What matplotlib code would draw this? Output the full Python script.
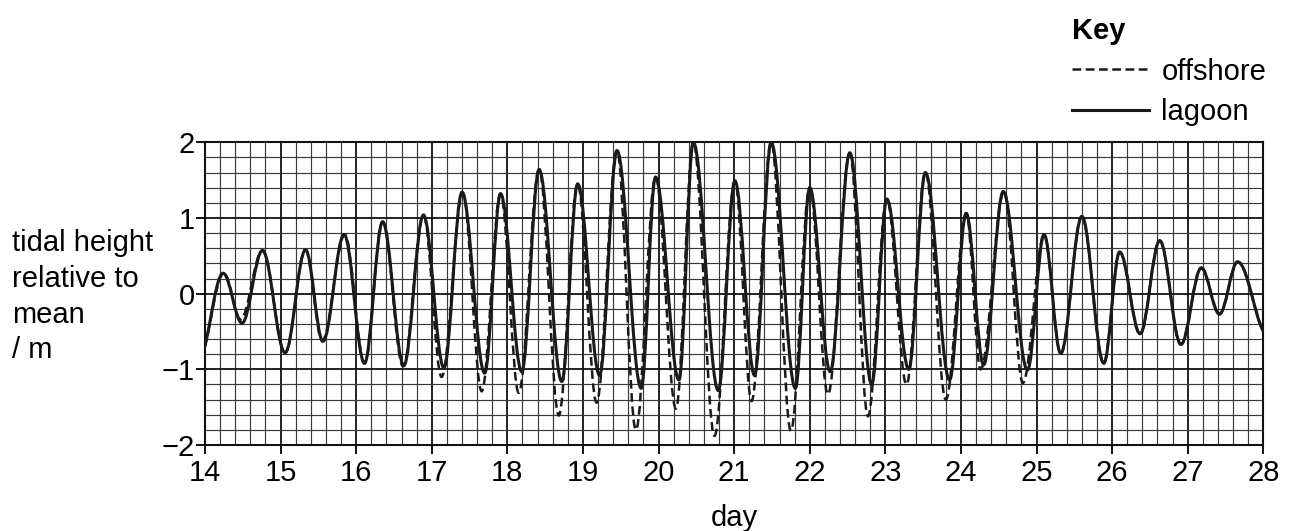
import matplotlib
matplotlib.use("Agg")
import matplotlib.pyplot as plt
from matplotlib.path import Path
from matplotlib.patches import PathPatch
from matplotlib.lines import Line2D

plt.rcParams['font.family'] = ['Liberation Sans', 'DejaVu Sans']

# ---- data: high / low water (day, height in m) ----
lagoon_day = [13.92, 14.24, 14.49, 14.76, 15.06, 15.33, 15.56, 15.84, 16.11, 16.35,
              16.63, 16.89, 17.16, 17.40, 17.70, 17.91, 18.19, 18.42, 18.72, 18.93,
              19.22, 19.45, 19.77, 19.96, 20.27, 20.46, 20.79, 21.01, 21.27, 21.49,
              21.81, 22.00, 22.27, 22.53, 22.82, 23.02, 23.31, 23.53, 23.85, 24.07,
              24.30, 24.56, 24.88, 25.10, 25.32, 25.60, 25.89, 26.10, 26.37, 26.63,
              26.91, 27.18, 27.42, 27.66, 28.06]
lagoon_height = [-0.85, 0.27, -0.39, 0.57, -0.78, 0.58, -0.63, 0.78, -0.92, 0.95,
                 -0.95, 1.04, -0.98, 1.34, -1.05, 1.32, -1.03, 1.64, -1.16, 1.45,
                 -1.08, 1.89, -1.25, 1.54, -1.14, 2.00, -1.28, 1.49, -1.08, 2.00,
                 -1.25, 1.40, -1.03, 1.86, -1.20, 1.25, -1.00, 1.60, -1.14, 1.06,
                 -0.94, 1.35, -1.01, 0.78, -0.79, 1.02, -0.92, 0.55, -0.53, 0.70,
                 -0.67, 0.34, -0.27, 0.42, -0.55]

offshore_day = [13.92, 14.25, 14.47, 14.76, 15.06, 15.33, 15.55, 15.85, 16.11, 16.35,
                16.62, 16.89, 17.13, 17.41, 17.66, 17.91, 18.15, 18.42, 18.68, 18.93,
                19.18, 19.45, 19.70, 19.96, 20.23, 20.46, 20.74, 21.01, 21.23, 21.49,
                21.75, 22.00, 22.24, 22.53, 22.77, 23.02, 23.28, 23.53, 23.80, 24.07,
                24.26, 24.57, 24.82, 25.10, 25.32, 25.60, 25.89, 26.10, 26.37, 26.63,
                26.91, 27.18, 27.42, 27.66, 28.06]
offshore_height = [-0.85, 0.27, -0.34, 0.57, -0.78, 0.58, -0.62, 0.78, -0.92, 0.95,
                   -0.96, 1.04, -1.10, 1.33, -1.29, 1.32, -1.31, 1.64, -1.61, 1.45,
                   -1.44, 1.89, -1.80, 1.54, -1.52, 2.00, -1.88, 1.49, -1.42, 2.00,
                   -1.81, 1.40, -1.33, 1.86, -1.62, 1.25, -1.20, 1.60, -1.40, 1.06,
                   -1.00, 1.35, -1.18, 0.78, -0.79, 1.02, -0.92, 0.55, -0.53, 0.70,
                   -0.67, 0.34, -0.27, 0.42, -0.55]

x_ticks = list(range(14, 29))
y_ticks = [-2, -1, 0, 1, 2]
x_minor = [14 + 0.2 * i for i in range(71)]
y_minor = [-2 + 0.2 * i for i in range(21)]


def tide_path(days, heights, k=0.363):
    """Smooth path through the turning points using the library's Bezier curves
    (horizontal tangent at every high/low water)."""
    verts = [(days[0], heights[0])]
    codes = [Path.MOVETO]
    for i in range(len(days) - 1):
        dt = days[i + 1] - days[i]
        verts += [(days[i] + k * dt, heights[i]),
                  (days[i + 1] - k * dt, heights[i + 1]),
                  (days[i + 1], heights[i + 1])]
        codes += [Path.CURVE4] * 3
    return Path(verts, codes)


FS = 21
W, H = 1290, 531
fig = plt.figure(figsize=(W / 100, H / 100), dpi=100)
ax = fig.add_axes([205 / W, (H - 445) / H, (1263.3 - 205) / W, (445 - 142.3) / H])

ax.set_xlim(14, 28)
ax.set_ylim(-2, 2)

ax.set_xticks(x_ticks)
ax.set_yticks(y_ticks)
ax.set_xticks(x_minor, minor=True)
ax.set_yticks(y_minor, minor=True)
ax.grid(which='minor', color='#3a3a3a', linewidth=0.85, zorder=0)
ax.grid(which='major', color='#111111', linewidth=1.3, zorder=0)
ax.set_axisbelow(True)

ax.tick_params(which='minor', length=0)
ax.tick_params(which='major', direction='out', length=6.5, width=1.4,
               labelsize=FS, color='#111111')
ax.tick_params(axis='x', pad=3.5)
ax.tick_params(axis='y', pad=1)
for s in ax.spines.values():
    s.set_linewidth(1.5)
    s.set_color('#111111')

lag = PathPatch(tide_path(lagoon_day, lagoon_height), fill=False,
                edgecolor='#1a1a1a', linewidth=2.2, zorder=3)
off = PathPatch(tide_path(offshore_day, offshore_height), fill=False,
                edgecolor='#1a1a1a', linewidth=1.8, linestyle=(0, (3.5, 1.8)),
                zorder=4)
ax.add_patch(lag)
ax.add_patch(off)

ax.set_xlabel('day', fontsize=FS, labelpad=12)

# multi-line label: 'baseline' anchors the last line's baseline
fig.text(12 / W, (H - 358.3) / H, 'tidal height\nrelative to\nmean\n/ m',
         fontsize=FS, ha='left', va='baseline', linespacing=1.35)

handles = [Line2D([], [], color='#1a1a1a', linewidth=1.8, linestyle=(0, (3.5, 1.8))),
           Line2D([], [], color='#1a1a1a', linewidth=2.2)]
leg = fig.legend(handles, ['offshore', 'lagoon'], loc='upper left',
                 bbox_to_anchor=(1066.5 / W, (H - 12) / H), frameon=False,
                 fontsize=FS, handlelength=2.65, handletextpad=0.42,
                 labelspacing=0.42, borderpad=0.18, borderaxespad=0,
                 title='Key', title_fontproperties={'weight': 'bold', 'size': FS},
                 alignment='left')

fig.savefig('out.png', dpi=100)
